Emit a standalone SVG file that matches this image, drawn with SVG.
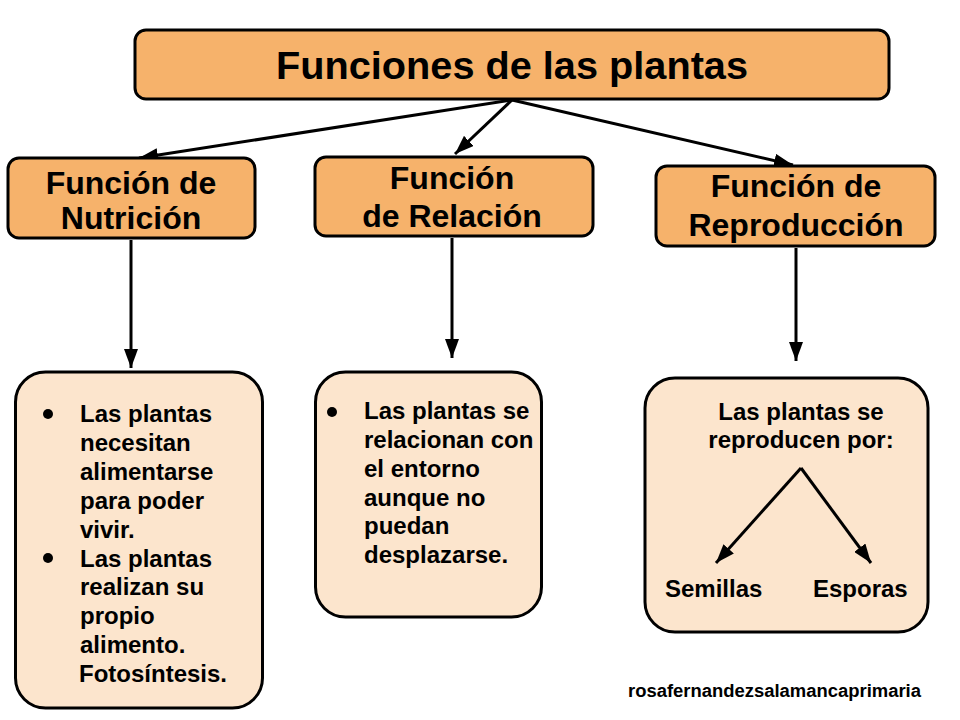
<svg xmlns="http://www.w3.org/2000/svg" width="960" height="720" viewBox="0 0 960 720">
<style>
.hdr{fill:#f6b26b;stroke:#000;stroke-width:3}
.bx{fill:#fce5cd;stroke:#000;stroke-width:3}
text{font-family:"Liberation Sans",Arial,sans-serif;font-weight:bold;fill:#000}
.t{font-size:39px;text-anchor:middle}
.h{font-size:32px;text-anchor:middle}
.b{font-size:24px}
.c{font-size:24px;text-anchor:middle}
.f{font-size:18px}
.ar{stroke:#000;stroke-width:3;fill:none;marker-end:url(#ah)}
</style>
<defs>
<marker id="ah" markerUnits="userSpaceOnUse" markerWidth="20" markerHeight="14" refX="19" refY="7" orient="auto">
<path d="M0,0 L19,7 L0,14 z" fill="#000"/>
</marker>
</defs>
<rect width="960" height="720" fill="#fff"/>
<g id="connectors">
<line class="ar" x1="512" y1="100" x2="139" y2="158"/>
<line class="ar" x1="512" y1="100" x2="455" y2="154"/>
<line class="ar" x1="512" y1="100" x2="793" y2="165"/>
<line class="ar" x1="131" y1="240" x2="131" y2="368"/>
<line class="ar" x1="452" y1="238" x2="452" y2="358"/>
<line class="ar" x1="796" y1="248" x2="796" y2="361"/>
</g>
<g id="title">
<rect class="hdr" x="135" y="30" width="754" height="69" rx="11"/>
<text class="t" x="512" y="79" textLength="472" lengthAdjust="spacingAndGlyphs">Funciones de las plantas</text>
</g>
<g id="nutricion">
<rect class="hdr" x="8" y="158" width="247" height="80" rx="11"/>
<text class="h" x="131" y="194">Función de</text>
<text class="h" x="131" y="229">Nutrición</text>
</g>
<g id="relacion">
<rect class="hdr" x="315" y="157" width="278" height="79" rx="11"/>
<text class="h" x="452" y="189">Función</text>
<text class="h" x="452" y="227">de Relación</text>
</g>
<g id="reproduccion">
<rect class="hdr" x="656" y="166" width="279" height="80" rx="11"/>
<text class="h" x="796" y="197">Función de</text>
<text class="h" x="796" y="236">Reproducción</text>
</g>
<g id="nutricion-detalle">
<rect class="bx" x="15.5" y="372" width="247" height="336" rx="30"/>
<circle cx="48" cy="414" r="5"/>
<circle cx="48" cy="558" r="5"/>
<text class="b" x="80" y="422">Las plantas</text>
<text class="b" x="80" y="451">necesitan</text>
<text class="b" x="80" y="480">alimentarse</text>
<text class="b" x="80" y="509">para poder</text>
<text class="b" x="80" y="538">vivir.</text>
<text class="b" x="80" y="567">Las plantas</text>
<text class="b" x="80" y="595">realizan su</text>
<text class="b" x="80" y="624">propio</text>
<text class="b" x="80" y="653">alimento.</text>
<text class="b" x="79" y="682">Fotosíntesis.</text>
</g>
<g id="relacion-detalle">
<rect class="bx" x="315.5" y="372" width="226" height="245" rx="30"/>
<circle cx="332" cy="412" r="5"/>
<text class="b" x="364" y="419">Las plantas se</text>
<text class="b" x="364" y="448">relacionan con</text>
<text class="b" x="364" y="477">el entorno</text>
<text class="b" x="364" y="506">aunque no</text>
<text class="b" x="364" y="534">puedan</text>
<text class="b" x="364" y="563">desplazarse.</text>
</g>
<g id="reproduccion-detalle">
<rect class="bx" x="645" y="378" width="283" height="254" rx="30"/>
<text class="c" x="801" y="420">Las plantas se</text>
<text class="c" x="801" y="448">reproducen por:</text>
<line class="ar" x1="801" y1="468" x2="716" y2="563"/>
<line class="ar" x1="801" y1="468" x2="871" y2="563"/>
<text class="b" x="665" y="597">Semillas</text>
<text class="b" x="813" y="597">Esporas</text>
</g>
<text class="f" x="628" y="697" textLength="293" lengthAdjust="spacingAndGlyphs">rosafernandezsalamancaprimaria</text>
</svg>
